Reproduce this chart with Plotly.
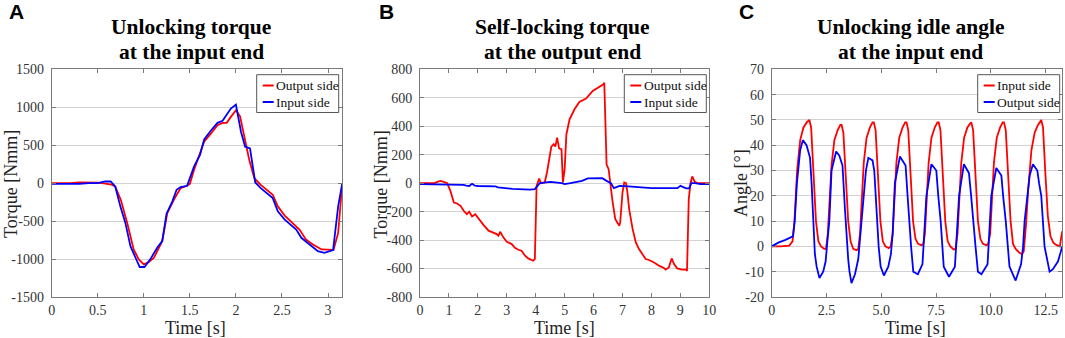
import plotly.graph_objects as go

W, H = 1065, 338

# ---------------- Panel A: Unlocking torque at the input end ----------------
a_t_out = [0, 0.1, 0.2, 0.3, 0.4, 0.5, 0.55, 0.6, 0.65, 0.69, 0.75, 0.82, 0.89, 0.945, 1.0,
           1.055, 1.11, 1.2, 1.255, 1.33, 1.4, 1.47, 1.5, 1.545, 1.6, 1.655, 1.73, 1.8, 1.855,
           1.9, 1.945, 2.0, 2.045, 2.09, 2.145, 2.2, 2.27, 2.4, 2.455, 2.53, 2.64, 2.69, 2.76,
           2.836, 2.93, 3.0, 3.06, 3.11, 3.155]
a_out = [0, 0, 0, 10, 10, 5, 0, -10, -20, -45, -220, -525, -873, -1004, -1070,
         -1040, -983, -764, -393, -210, -65, -35, -9, 175, 350, 546, 655, 764, 795,
         795, 873, 961, 880, 611, 306, 65, -22, -153, -306, -428, -546, -611, -742,
         -808, -873, -882, -880, -655, 0]
a_t_in = [0, 0.1, 0.2, 0.3, 0.4, 0.5, 0.58, 0.64, 0.69, 0.745, 0.8, 0.855, 0.91, 0.956, 1.007,
          1.07, 1.145, 1.2, 1.247, 1.31, 1.356, 1.4, 1.47, 1.545, 1.61, 1.655, 1.727, 1.8,
          1.855, 1.945, 2.0, 2.055, 2.1, 2.153, 2.21, 2.27, 2.4, 2.455, 2.53, 2.655, 2.71,
          2.78, 2.89, 2.96, 3.055, 3.11, 3.155]
a_in = [-10, -10, -10, -10, 0, 0, 22, 22, -44, -306, -524, -830, -983, -1105, -1105,
        -1004, -852, -764, -402, -240, -87, -52, -35, 218, 371, 576, 690, 795,
        821, 983, 1035, 677, 480, 458, 9, -65, -197, -371, -480, -611, -720,
        -786, -895, -917, -882, -306, 0]
a_xticks = [0, 0.5, 1, 1.5, 2, 2.5, 3]
a_xticklabels = ["0", "0.5", "1", "1.5", "2", "2.5", "3"]
a_yticks = [-1500, -1000, -500, 0, 500, 1000, 1500]
a_yticklabels = ["-1500", "-1000", "-500", "0", "500", "1000", "1500"]

# ---------------- Panel B: Self-locking torque at the output end ----------------
b_t_out = [0, 0.5, 0.6, 0.71, 0.82, 0.94, 1.05, 1.17, 1.28, 1.4, 1.51, 1.62, 1.7, 1.8, 1.91,
           2.03, 2.2, 2.37, 2.54, 2.65, 2.71, 2.77, 2.88, 3.0, 3.17, 3.28, 3.4, 3.51, 3.63,
           3.74, 3.91, 3.97, 4.03, 4.12, 4.18, 4.31, 4.39, 4.54, 4.62, 4.68, 4.74, 4.81,
           4.89, 4.94, 5.0, 5.06, 5.17, 5.34, 5.51, 5.74, 5.97, 6.14, 6.26, 6.34, 6.37,
           6.45, 6.52, 6.6, 6.66, 6.75, 6.83, 6.89, 6.92, 7.0, 7.06, 7.12, 7.17, 7.23,
           7.35, 7.46, 7.57, 7.69, 7.8, 7.92, 8.09, 8.26, 8.43, 8.49, 8.6, 8.7, 8.78, 8.89,
           9.06, 9.2, 9.23, 9.29, 9.35, 9.41, 9.5, 9.58, 10]
b_out = [0, 0, 9, 16, 9, 0, -54, -136, -143, -159, -194, -218, -201, -234, -218,
         -253, -295, -334, -346, -358, -370, -342, -381, -412, -428, -454, -468, -475, -510,
         -529, -545, -533, -19, 33, 0, 5, 75, 257, 274, 257, 320, 243,
         239, 5, 98, 344, 449, 519, 571, 594, 648, 671, 683, 695, 706,
         130, 98, -42, -136, -253, -276, -299, -276, -65, 5, 0, -65, -182,
         -323, -416, -463, -498, -533, -540, -557, -580, -596, -608, -592, -529, -568, -599,
         -608, -608, -617, -112, 0, 47, 9, 0, 0]
b_t_in = [0, 0.5, 1.0, 1.5, 1.6, 1.7, 1.8, 1.9, 2.0, 2.6, 2.7, 3.2, 3.8, 3.97, 4.14, 4.3, 4.5,
          4.9, 5.0, 5.2, 5.4, 5.6, 5.8, 6.3, 6.45, 6.6, 6.7, 6.9, 7.2, 7.7, 8.0, 8.9, 9.0,
          9.2, 9.3, 9.38, 9.5, 9.7, 10]
b_in = [-7, -7, -8, -12, -18, -20, -5, -18, -20, -22, -30, -40, -45, -42, 0, 2, 9,
        0, -7, 0, 9, 16, 33, 35, 16, 0, -35, -19, -23, -30, -35, -35, -19,
        -37, -37, 0, 0, -7, -7]
b_xticks = [0, 1, 2, 3, 4, 5, 6, 7, 8, 9, 10]
b_xticklabels = ["0", "1", "2", "3", "4", "5", "6", "7", "8", "9", "10"]
b_yticks = [-800, -600, -400, -200, 0, 200, 400, 600, 800]
b_yticklabels = ["-800", "-600", "-400", "-200", "0", "200", "400", "600", "800"]

# ---------------- Panel C: Unlocking idle angle at the input end ----------------
c_t_in = [0, 0.4, 0.8, 0.95, 1.04, 1.16, 1.3, 1.45, 1.6, 1.72, 1.8, 1.9, 2.02, 2.13, 2.25, 2.4, 2.48,
          2.56, 2.63, 2.73, 2.86, 3.01, 3.13, 3.19, 3.27, 3.37, 3.49, 3.6, 3.72, 3.87, 3.95,
          4.03, 4.1, 4.2, 4.33, 4.48, 4.6, 4.66, 4.74, 4.84, 4.96, 5.07, 5.19, 5.34, 5.43,
          5.52, 5.59, 5.69, 5.82, 5.97, 6.09, 6.15, 6.23, 6.33, 6.45, 6.56, 6.68, 6.83, 6.92,
          6.99, 7.06, 7.16, 7.29, 7.44, 7.56, 7.62, 7.7, 7.8, 7.92, 8.03, 8.15, 8.3, 8.39,
          8.48, 8.55, 8.65, 8.78, 8.93, 9.05, 9.11, 9.19, 9.29, 9.41, 9.52, 9.64, 9.79, 9.88,
          9.97, 10.04, 10.14, 10.27, 10.42, 10.54, 10.6, 10.68, 10.78, 10.9, 11.01, 11.13, 11.3, 11.42, 11.5,
          11.6, 11.7, 11.85, 12.0, 12.15, 12.3, 12.38, 12.48, 12.6, 12.72, 12.85, 13.0, 13.15, 13.2, 13.26]
c_in = [0, 0, 0.3, 2, 10, 30, 42, 47, 49, 50, 47, 29, 10, 2, 0, -1, -1,
        5, 15, 32, 42, 46, 48, 48, 45, 28, 10, 2, -1, -1.5, -1,
        5, 15, 33, 43, 47, 49, 49, 46, 28, 10, 2, 0, -0.7, 0,
        5, 15, 33, 43, 47, 49, 49, 46, 28, 10, 3, 1, 0.5, 1,
        5, 15, 33, 43, 47, 49, 49, 46, 28, 10, 2, 0, -1.2, -1,
        5, 15, 33, 43, 47, 48.5, 49, 46, 28, 10, 3, 1, 0.5, 1,
        5, 15, 33, 43, 47, 49, 49, 46, 28, 10, 1, -1, -2.5, -3, -2,
        8, 22, 38, 45, 48, 50, 47, 30, 12, 4, 1.5, 0.5, 0, 3, 6]
c_t_out = [0, 0.3, 0.6, 0.97, 1.05, 1.15, 1.3, 1.42, 1.59, 1.7, 1.75, 1.82, 1.9, 1.97, 2.05,
           2.18, 2.35, 2.46, 2.54, 2.63, 2.73, 2.94, 3.08, 3.23, 3.34, 3.44, 3.49, 3.55, 3.64,
           3.8, 3.95, 4.05, 4.18, 4.3, 4.41, 4.6, 4.68, 4.8, 4.88, 4.97, 5.12, 5.32, 5.44,
           5.52, 5.62, 5.85, 6.11, 6.2, 6.27, 6.36, 6.46, 6.67, 6.88, 6.97, 7.06, 7.29, 7.51,
           7.6, 7.71, 7.85, 8.09, 8.36, 8.45, 8.55, 8.77, 9.0, 9.1, 9.19, 9.3, 9.41, 9.57,
           9.85, 9.93, 10.02, 10.25, 10.48, 10.56, 10.68, 10.85, 11.13, 11.38, 11.47, 11.54,
           11.77, 11.92, 12.12, 12.2, 12.3, 12.45, 12.55, 12.68, 12.83, 13.06, 13.26]
c_out = [0, 1.5, 2.5, 4, 10, 25, 38, 42, 40, 37, 35, 25, 10, -3, -8,
         -12.5, -10, -6, 2, 10, 30, 37.5, 36, 32, 15, 0, -5, -10, -14.5,
         -11, -5, 5, 20, 30, 35, 34, 30, 10, 0, -8, -11.5, -8, -3,
         5, 25, 35.5, 32, 20, 10, 0, -10, -11, -7, 5, 20, 32.5, 30,
         20, 10, -8, -12, -8, 5, 20, 32.5, 29, 20, 10, 0, -10, -11,
         -7, 5, 20, 31, 28, 20, 10, -8, -13.5, -7, 0, 10,
         28, 32.5, 30, 25, 20, 0, -5, -10, -9, -6, 0]
c_xticks = [0, 2.5, 5, 7.5, 10, 12.5]
c_xticklabels = ["0", "2.5", "5.0", "7.5", "10.0", "12.5"]
c_yticks = [-20, -10, 0, 10, 20, 30, 40, 50, 60, 70]
c_yticklabels = ["-20", "-10", "0", "10", "20", "30", "40", "50", "60", "70"]

RED = "#ff0000"
BLUE = "#0000ff"
SERIF = "Liberation Serif"
SANS = "Liberation Sans"


def px(x):
    return x / W


def py(y):
    return 1 - y / H


fig = go.Figure()

panels = [
    dict(ax="", t1=a_t_out, y1=a_out, t2=a_t_in, y2=a_in, n1="Output side", n2="Input side"),
    dict(ax="2", t1=b_t_out, y1=b_out, t2=b_t_in, y2=b_in, n1="Output side", n2="Input side"),
    dict(ax="3", t1=c_t_in, y1=c_in, t2=c_t_out, y2=c_out, n1="Input side", n2="Output side"),
]
for p in panels:
    fig.add_trace(go.Scatter(x=p["t1"], y=p["y1"], mode="lines", name=p["n1"],
                             line=dict(color=RED, width=1.8), showlegend=False,
                             xaxis="x" + p["ax"], yaxis="y" + p["ax"]))
    fig.add_trace(go.Scatter(x=p["t2"], y=p["y2"], mode="lines", name=p["n2"],
                             line=dict(color=BLUE, width=1.8), showlegend=False,
                             xaxis="x" + p["ax"], yaxis="y" + p["ax"]))

FRAME = "#7a7a7a"
tickfont = dict(family=SERIF, size=14, color="#333333")


def xax(domain, rng, tv, tt, anchor):
    return dict(domain=domain, range=rng, tickvals=tv, ticktext=tt, anchor=anchor,
                automargin=False,
                showgrid=False, zeroline=False, showline=True, linecolor=FRAME, linewidth=1,
                mirror="ticks", ticks="inside", ticklen=4, tickcolor=FRAME,
                tickfont=tickfont, fixedrange=True)


def yax(rng, tv, tt, anchor):
    return dict(domain=[py(297), py(69.3)], range=rng, tickvals=tv, ticktext=tt, anchor=anchor,
                automargin=False,
                showgrid=True, gridcolor="#d2d2d2", gridwidth=1, zeroline=False,
                showline=True, linecolor=FRAME, linewidth=1, mirror="ticks",
                ticks="inside", ticklen=4, tickcolor=FRAME, tickfont=tickfont,
                ticklabelstandoff=4, fixedrange=True)


fig.update_layout(
    width=W, height=H,
    margin=dict(l=0, r=0, t=0, b=0, autoexpand=False),
    font=dict(family=SERIF),
    paper_bgcolor="white", plot_bgcolor="white",
    showlegend=False,
    xaxis=xax([px(51.7), px(342.3)], [0, 3.155], a_xticks, a_xticklabels, "y"),
    yaxis=yax([-1500, 1500], a_yticks, a_yticklabels, "x"),
    xaxis2=xax([px(420), px(709.3)], [0, 10], b_xticks, b_xticklabels, "y2"),
    yaxis2=yax([-800, 800], b_yticks, b_yticklabels, "x2"),
    xaxis3=xax([px(771.7), px(1062.3)], [0, 13.26], c_xticks, c_xticklabels, "y3"),
    yaxis3=yax([-20, 70], c_yticks, c_yticklabels, "x3"),
)

annotations = []
shapes = []


def text(x, y, s, size, family=SERIF, bold=False, xanchor="center", color="black", angle=0):
    annotations.append(dict(
        x=px(x), y=py(y), xref="paper", yref="paper", text=("<b>%s</b>" % s) if bold else s,
        showarrow=False, xanchor=xanchor, yanchor="middle", textangle=angle,
        font=dict(family=family, size=size, color=color)))


# panel letters
for lx, lt in [(16.5, "A"), (386, "B"), (746, "C")]:
    text(lx, 12, lt, 21, family=SANS, bold=True)

# titles
titles = [(191, "Unlocking torque", "at the input end"),
          (562.5, "Self-locking torque", "at the output end"),
          (910.5, "Unlocking idle angle", "at the input end")]
for tx, l1, l2 in titles:
    text(tx, 27, l1, 21.5, bold=True)
    text(tx, 52, l2, 21.5, bold=True)

# axis titles
for cx in [195, 564.6, 915]:
    text(cx, 328, "Time [s]", 18, color="#222222")
text(11.5, 184.5, "Torque [Nmm]", 18, angle=-90, color="#222222")
text(381, 184.5, "Torque [Nmm]", 18, angle=-90, color="#222222")
text(741, 183, "Angle [°]", 18, angle=-90, color="#222222")

# legends
legends = [(256.7, "Output side", "Input side"),
           (624.3, "Output side", "Input side"),
           (977.7, "Input side", "Output side")]
for lx, n1, n2 in legends:
    shapes.append(dict(type="rect", xref="paper", yref="paper",
                       x0=px(lx), x1=px(lx + 82), y0=py(112.5), y1=py(74.7),
                       line=dict(color="#555555", width=1), fillcolor="white", layer="above"))
    for yy, col, nm in [(85.5, RED, n1), (102, BLUE, n2)]:
        shapes.append(dict(type="line", xref="paper", yref="paper",
                           x0=px(lx + 6), x1=px(lx + 17), y0=py(yy), y1=py(yy),
                           line=dict(color=col, width=2), layer="above"))
        text(lx + 17.5, yy, nm, 13.5, xanchor="left", color="#111111")

fig.update_layout(annotations=annotations, shapes=shapes)

fig.write_html("out.html",
               config={"displayModeBar": False, "staticPlot": True},
               post_script="document.body.style.margin='0px';document.body.style.overflow='hidden';")
